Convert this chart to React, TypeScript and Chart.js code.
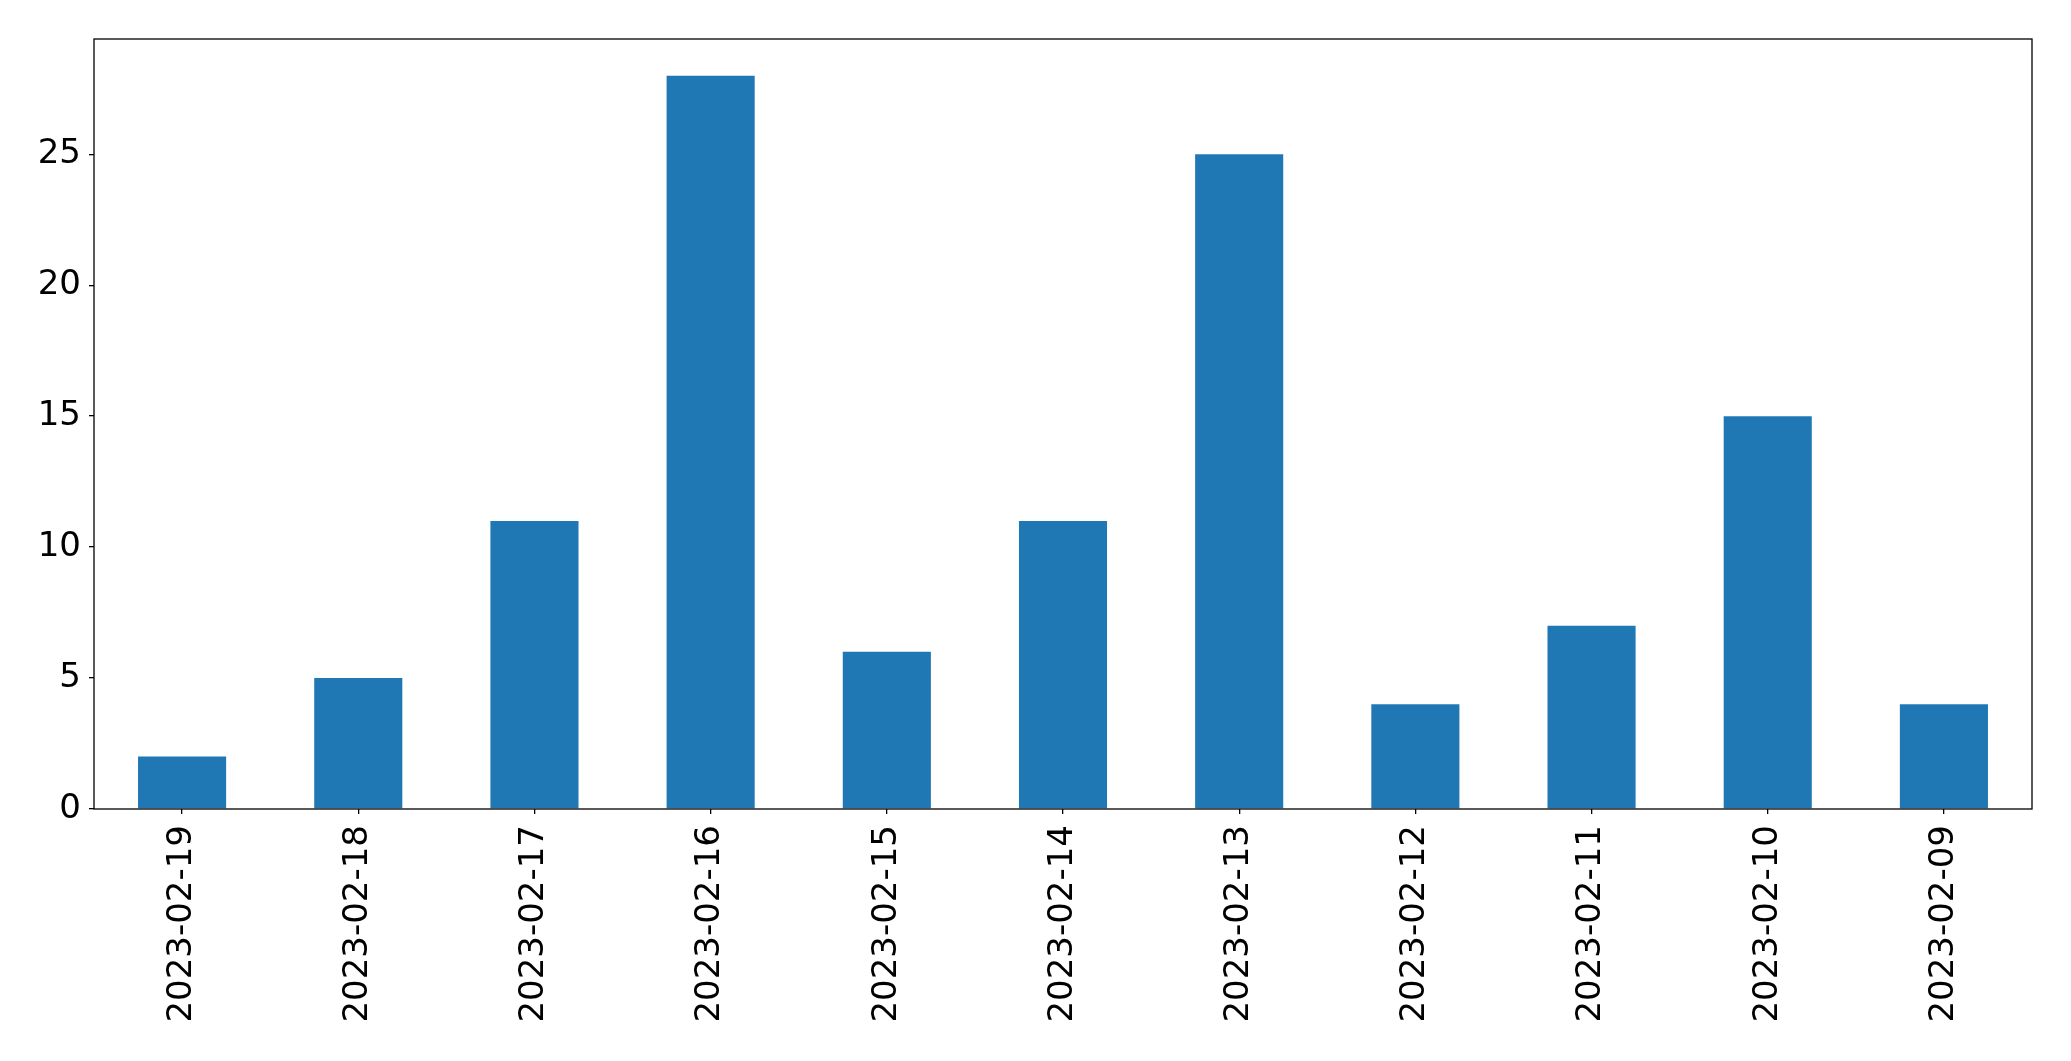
import React, { useEffect, useRef } from "react";
import { Chart, registerables } from "chart.js";

Chart.register(...registerables);

const categories = [
  "2023-02-19", "2023-02-18", "2023-02-17", "2023-02-16", "2023-02-15", "2023-02-14",
  "2023-02-13", "2023-02-12", "2023-02-11", "2023-02-10", "2023-02-09",
];
const values = [2, 5, 11, 28, 6, 11, 25, 4, 7, 15, 4];
const yTicks = [0, 5, 10, 15, 20, 25];
const yMax = 29.4;

const W = 2071;
const H = 1061;

export default function App() {
  const ref = useRef<HTMLCanvasElement | null>(null);
  useEffect(() => {
    if (!ref.current) return;
    const font = { family: "'DejaVu Sans'", size: 34 };
    const frame = {
      id: "frame",
      afterDatasetsDraw(chart: any) {
        const { ctx, chartArea } = chart;
        ctx.save();
        ctx.strokeStyle = "#000";
        ctx.lineWidth = 1.3;
        ctx.strokeRect(chartArea.left, chartArea.top, chartArea.right - chartArea.left, chartArea.bottom - chartArea.top);
        ctx.restore();
      },
    };
    const chart = new Chart(ref.current, {
      type: "bar",
      data: {
        labels: categories,
        datasets: [
          {
            data: values,
            backgroundColor: "#1f77b4",
            barPercentage: 0.5,
            categoryPercentage: 1,
          },
        ],
      },
      options: {
        responsive: false,
        animation: false,
        layout: { padding: { top: 39, right: 39, left: 0, bottom: 0 } },
        plugins: { legend: { display: false }, tooltip: { enabled: false } },
        scales: {
          x: {
            offset: true,
            grid: { display: true, offset: false, drawOnChartArea: false, drawTicks: true, tickLength: 5, color: "#000", lineWidth: 1.3 },
            border: { display: false },
            ticks: { font, color: "#000", minRotation: 90, maxRotation: 90, padding: 11, autoSkip: false },
            afterFit(scale: any) {
              scale.height = 252;
            },
          },
          y: {
            min: 0,
            max: yMax,
            grid: { display: true, drawOnChartArea: false, drawTicks: true, tickLength: 5, color: "#000", lineWidth: 1.3 },
            border: { display: false },
            ticks: { font, color: "#000", padding: 8, stepSize: 5 },
            afterBuildTicks(scale: any) {
              scale.ticks = yTicks.map((v) => ({ value: v }));
            },
            afterFit(scale: any) {
              scale.width = 94;
            },
          },
        },
      },
      plugins: [frame],
    });
    return () => chart.destroy();
  }, []);
  return (
    <div style={{ position: "fixed", left: 0, top: 0, width: W, height: H, background: "#fff" }}>
      <canvas ref={ref} width={W} height={H} style={{ display: "block" }} />
    </div>
  );
}
